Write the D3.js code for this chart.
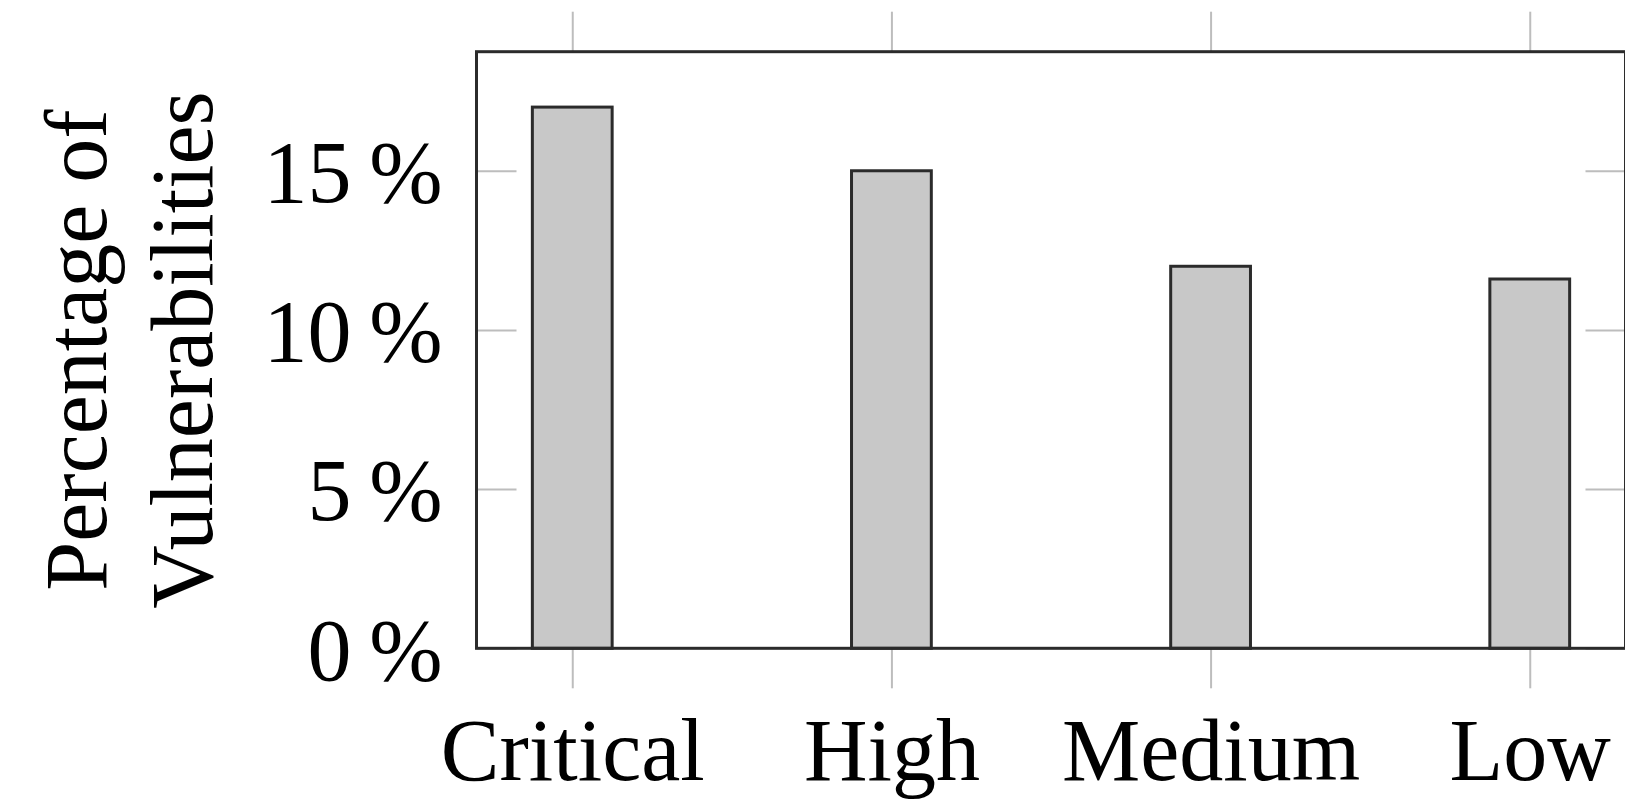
<!DOCTYPE html>
<html>
<head>
<meta charset="utf-8">
<script src="https://cdn.jsdelivr.net/npm/d3@7"></script>
<style>
  html, body { margin: 0; padding: 0; background: #fff; overflow: hidden; }
  svg { display: block; }
  text { font-family: "Liberation Serif", "DejaVu Serif", serif; fill: #000; }
</style>
</head>
<body>
<svg id="chart" width="1625" height="802"></svg>
<script>
// ---- data ----
const categories = ["Critical", "High", "Medium", "Low"];
const values = [17.0, 15.0, 12.0, 11.6];
const yTickValues = [0, 5, 10, 15];
const yTickLabels = ["0\u2009%", "5\u2009%", "10\u2009%", "15\u2009%"];
const yTitleLines = ["Percentage of", "Vulnerabilities"];

// ---- layout ----
const plotLeft = 476.5, plotRight = 1625.5, plotTop = 51.7, plotBottom = 648.3;
const fontSize = 88;
const frameColor = "#2b2b2b";
const tickColor = "#bdbdbd";

const svg = d3.select("#chart");

const idx = categories.map((d, i) => i);
const x = d3.scaleLinear().domain([-0.3, categories.length - 1 + 0.3]).range([plotLeft, plotRight]);
const y = d3.scaleLinear().domain([0, 18.74]).range([plotBottom, plotTop]);
const barHalf = 0.125; // half bar width in category units

function styleTicks(g) {
  g.select(".domain").remove();
  g.selectAll(".tick line").attr("stroke", tickColor).attr("stroke-width", 2);
}

// top axis (ticks only, outward)
svg.append("g").attr("transform", `translate(0,${plotTop})`)
  .call(d3.axisTop(x).tickValues(idx).tickSize(40).tickFormat(""))
  .call(styleTicks);

// bottom axis (outward ticks + labels)
const xb = svg.append("g").attr("transform", `translate(0,${plotBottom})`)
  .call(d3.axisBottom(x).tickValues(idx).tickSize(40).tickFormat(i => categories[i]))
  .call(styleTicks);
xb.selectAll(".tick text")
  .attr("y", 780 - plotBottom).attr("dy", null)
  .attr("font-size", fontSize).attr("font-family", null).attr("fill", "#000");

// left axis (inward ticks + labels)
const yl = svg.append("g").attr("transform", `translate(${plotLeft},0)`)
  .call(d3.axisLeft(y).tickValues(yTickValues).tickSize(-40).tickPadding(34)
    .tickFormat((d, i) => yTickLabels[i]))
  .call(styleTicks);
yl.selectAll(".tick text")
  .attr("dy", "0.35em")
  .attr("font-size", fontSize).attr("font-family", null).attr("fill", "#000");

// right axis (inward ticks only)
svg.append("g").attr("transform", `translate(${plotRight},0)`)
  .call(d3.axisRight(y).tickValues(yTickValues).tickSize(-40).tickFormat(""))
  .call(styleTicks);

// bars
svg.append("g").selectAll("rect")
  .data(values)
  .join("rect")
  .attr("x", (d, i) => x(i - barHalf))
  .attr("width", (d, i) => x(i + barHalf) - x(i - barHalf))
  .attr("y", d => y(d))
  .attr("height", d => y(0) - y(d))
  .attr("fill", "#c8c8c8")
  .attr("stroke", frameColor)
  .attr("stroke-width", 3);

// frame
svg.append("rect")
  .attr("x", plotLeft).attr("y", plotTop)
  .attr("width", plotRight - plotLeft).attr("height", plotBottom - plotTop)
  .attr("fill", "none").attr("stroke", frameColor).attr("stroke-width", 3);

// y-axis title (two lines, rotated)
const yMid = (plotTop + plotBottom) / 2;
const titleBaselines = [106, 212];
svg.append("g").selectAll("text")
  .data(yTitleLines)
  .join("text")
  .attr("transform", (d, i) => `translate(${titleBaselines[i]},${yMid}) rotate(-90)`)
  .attr("text-anchor", "middle")
  .attr("font-size", fontSize)
  .text(d => d);
</script>
</body>
</html>
